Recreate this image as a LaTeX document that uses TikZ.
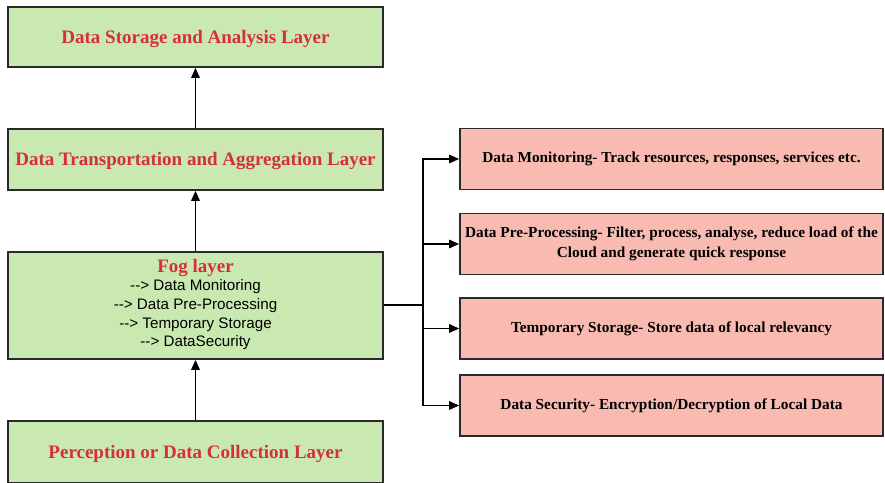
\documentclass[tikz,border=0pt]{standalone}
\usepackage{fontspec}
\setmainfont{Liberation Serif}
\setsansfont{Liberation Sans}[Ligatures=NoCommon]
\usetikzlibrary{arrows.meta}
\definecolor{gfill}{HTML}{C9E9B0}
\definecolor{rfill}{HTML}{F9BBB1}
\definecolor{ttlred}{HTML}{D42F3B}
\definecolor{edge}{HTML}{2A2A2A}
\newcommand\foglist{\sffamily\fontsize{15.2}{18.6}\selectfont}
\newcommand\dd{-{}-{}>}
\begin{document}
\begin{tikzpicture}[x=1pt,y=-1pt,
  gbox/.style={draw=edge, line width=1.7pt, fill=gfill, minimum width=375pt, inner sep=0pt, align=center},
  gtitle/.style={text=ttlred, font=\bfseries\fontsize{19}{22}\selectfont, text depth=1pt},
  rbox/.style={draw=edge, line width=1.7pt, fill=rfill, minimum width=423pt, minimum height=61pt, inner sep=0pt, align=center, font=\bfseries\fontsize{15.3}{20}\selectfont},
  arr/.style={-{Triangle[length=10pt,width=8.5pt]}, line width=1.6pt, draw=black}]
\useasboundingbox (0,0) rectangle (885,482);
\fill[white] (0,0) rectangle (885,482);
% green layers
\node[gbox, gtitle, minimum height=60pt] (store) at (195.5,37) {Data Storage and Analysis Layer};
\node[gbox, gtitle, minimum height=61pt] (trans) at (195.5,159.5) {Data Transportation and Aggregation Layer};
\node[gbox, minimum height=107pt] (fog) at (195.5,305.5) {};
\node[align=center, inner sep=0pt, anchor=north, font=\foglist] (fogtxt) at (195.5,259)
  {\textcolor{ttlred}{\rmfamily\bfseries\fontsize{19}{18.6}\selectfont Fog layer}\\
   \dd{} Data Monitoring\\ \dd{} Data Pre-Processing\\ \dd{} Temporary Storage\\ \dd{} DataSecurity};
\node[gbox, gtitle, minimum height=62pt] (perc) at (195.5,452) {Perception or Data Collection Layer};
% red boxes
\node[rbox] (r1) at (671.5,159) {Data Monitoring- Track resources, responses, services etc.};
\node[rbox] (r2) at (671.5,244) {Data Pre-Processing- Filter, process, analyse, reduce load of the\\Cloud and generate quick response};
\node[rbox] (r3) at (671.5,328.5) {Temporary Storage- Store data of local relevancy};
\node[rbox] (r4) at (671.5,405.5) {Data Security- Encryption/Decryption of Local Data};
% vertical arrows
\draw[arr] (trans.north) -- (store.south);
\draw[arr] (fog.north) -- (trans.south);
\draw[arr] (perc.north) -- (fog.south);
% branching
\coordinate (j) at (423,305);
\draw[line width=1.6pt] (fog.east |- j) -- (j);
\draw[arr] (j) |- (r1.west);
\draw[arr] (j) |- (r2.west);
\draw[arr] (j) |- (r3.west);
\draw[arr] (j) |- (r4.west);
\end{tikzpicture}
\end{document}
